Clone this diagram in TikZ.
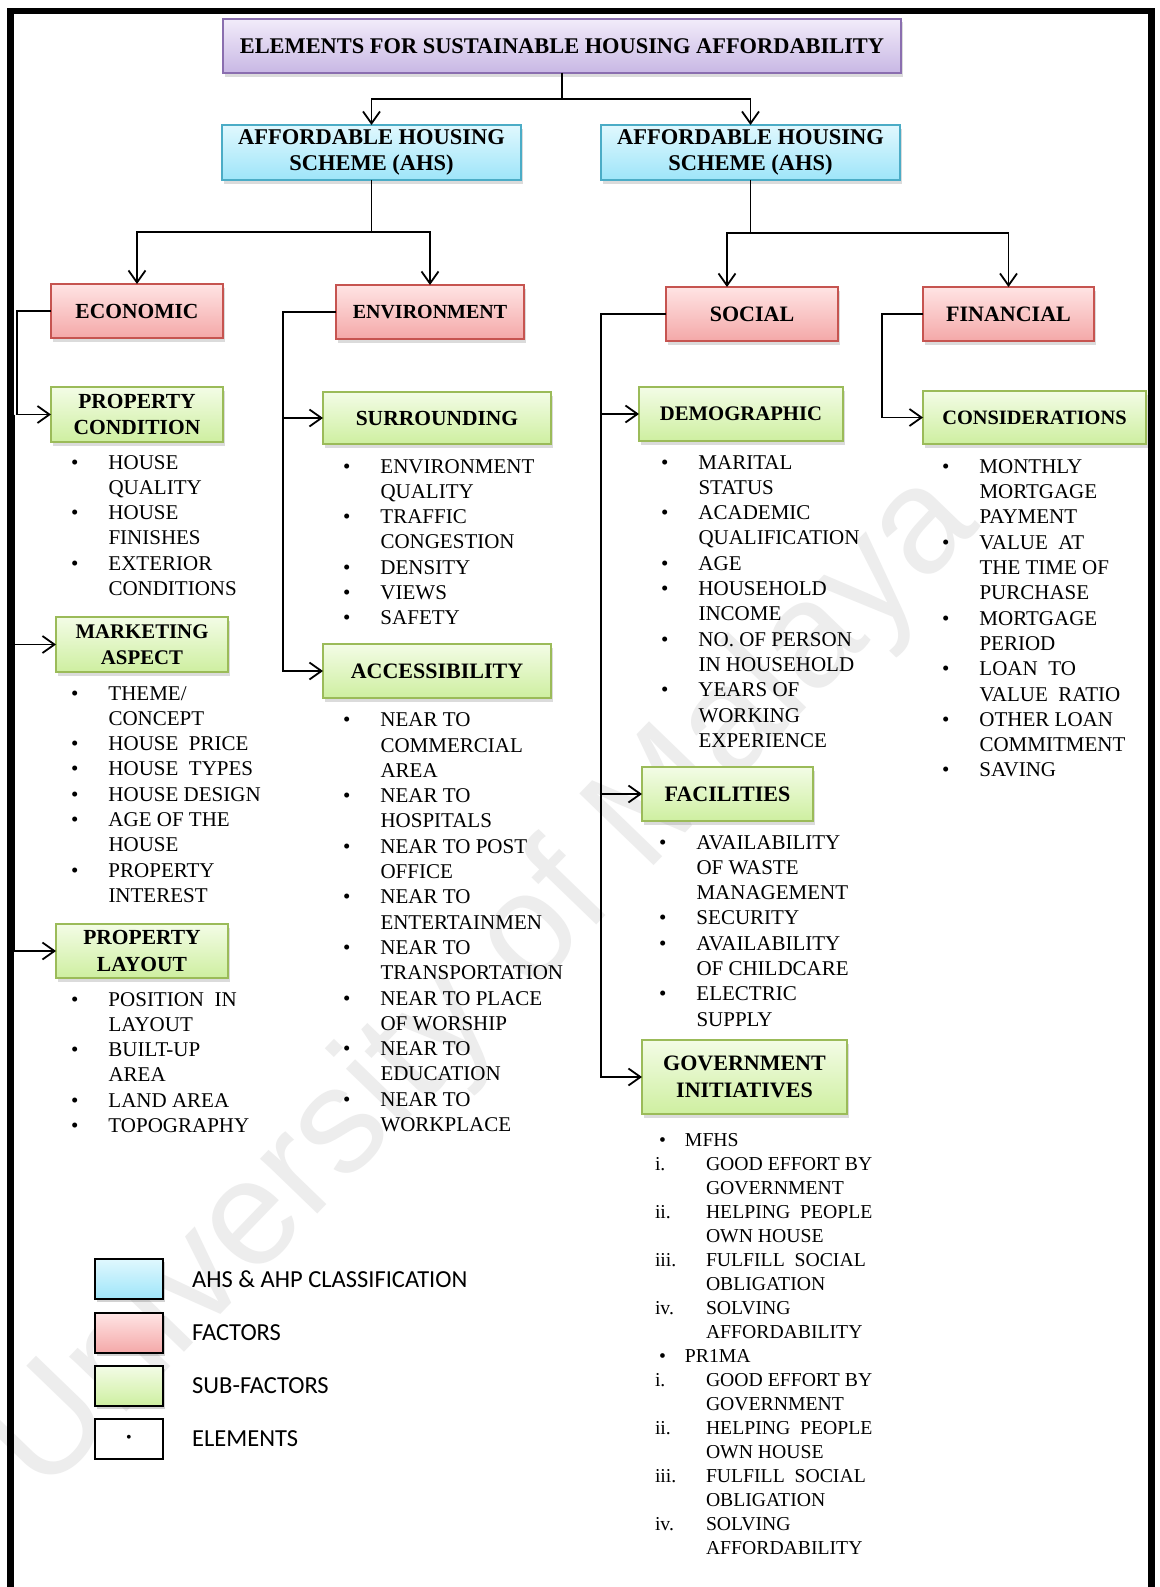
\documentclass[tikz,border=0pt]{standalone}
\usepackage{fontspec}
\setmainfont{Liberation Serif}
\newfontfamily\legendfont{Carlito}
\newfontfamily\markfont{Liberation Sans}
\usetikzlibrary{arrows.meta,shadows,calc}

% box colours
\definecolor{purTop}{RGB}{242,236,250}
\definecolor{purBot}{RGB}{200,183,228}
\definecolor{purLine}{RGB}{138,110,175}
\definecolor{bluTop}{RGB}{224,248,254}
\definecolor{bluBot}{RGB}{158,229,249}
\definecolor{bluLine}{RGB}{75,172,198}
\definecolor{redTop}{RGB}{255,228,228}
\definecolor{redBot}{RGB}{244,168,168}
\definecolor{redLine}{RGB}{198,84,80}
\definecolor{grnTop}{RGB}{243,252,230}
\definecolor{grnBot}{RGB}{206,239,160}
\definecolor{grnLine}{RGB}{155,187,89}

% list helpers
\newcommand\bl{\makebox[37.5pt][l]{\textbullet}}
\newcommand\ct{\hspace*{37.5pt}}
\newcommand\gb{\hspace*{4pt}\makebox[26pt][l]{\textbullet}}
\newcommand\rn[1]{\makebox[51pt][l]{#1}}
\newcommand\gc{\hspace*{51pt}}

\tikzset{
  x=1pt, y=-1pt,
  box/.style={draw, line width=2pt, inner sep=0pt, outer sep=0pt,
    anchor=north west, align=center,
    font=\fontsize{21.5}{26.5}\selectfont\bfseries,
    drop shadow={shadow xshift=1.5pt, shadow yshift=-3.5pt, opacity=.28}},
  topbox/.style={box, draw=purLine, top color=purTop, bottom color=purBot},
  schemebox/.style={box, draw=bluLine, top color=bluTop, bottom color=bluBot},
  factorbox/.style={box, draw=redLine, top color=redTop, bottom color=redBot},
  subbox/.style={box, draw=grnLine, top color=grnTop, bottom color=grnBot},
  itemlist/.style={anchor=base west, inner sep=0pt, outer sep=0pt,
    font=\fontsize{21}{25.3}\selectfont},
  govlist/.style={anchor=base west, inner sep=0pt, outer sep=0pt,
    font=\fontsize{19.7}{24}\selectfont},
  conn/.style={line width=1.8pt},
  arr/.style={conn, -{Straight Barb[length=12pt,width=17pt]}},
  legbox/.style={draw=black, line width=2pt, inner sep=0pt, outer sep=0pt,
    anchor=north west, minimum width=68pt, minimum height=40pt},
  legshadow/.style={drop shadow={shadow xshift=1.5pt, shadow yshift=-3pt, opacity=.35}},
  legtext/.style={anchor=west, inner sep=0pt,
    font=\legendfont\fontsize{24.5}{28}\selectfont},
}

\begin{document}
\begin{tikzpicture}
\useasboundingbox (0,0) rectangle (1159,1587);
\fill[white] (0,0) rectangle (1159,1587);

% faint watermark behind everything
\node[rotate=46, text=black!7, inner sep=0pt,
  font=\markfont\fontsize{150}{150}\selectfont] (mark) at (485,985) {University of Malaya};

% page frame, open at the bottom
\draw[line width=6.5pt] (10.5,1587) -- (10.5,11) -- (1151.5,11) -- (1151.5,1587);

% ---- top levels
\node[topbox, minimum width=678pt, minimum height=54pt, font=\fontsize{22.4}{26}\selectfont\bfseries]
  (title) at (223,19) {ELEMENTS FOR SUSTAINABLE HOUSING AFFORDABILITY};
\node[schemebox, minimum width=299pt, minimum height=55pt, font=\fontsize{22.5}{26.7}\selectfont\bfseries]
  (ahsL) at (222,125) {AFFORDABLE HOUSING\\SCHEME (AHS)};
\node[schemebox, minimum width=299pt, minimum height=55pt, font=\fontsize{22.5}{26.7}\selectfont\bfseries]
  (ahsR) at (601,125) {AFFORDABLE HOUSING\\SCHEME (AHS)};

% ---- factors
\node[factorbox, minimum width=172pt, minimum height=54pt] (econ) at (51,284) {ECONOMIC};
\node[factorbox, minimum width=188pt, minimum height=54pt, font=\fontsize{20}{24}\selectfont\bfseries]
  (env) at (336,285) {ENVIRONMENT};
\node[factorbox, minimum width=172pt, minimum height=54pt, font=\fontsize{22}{26}\selectfont\bfseries]
  (soc) at (666,287) {SOCIAL};
\node[factorbox, minimum width=171pt, minimum height=54pt, font=\fontsize{22}{26}\selectfont\bfseries]
  (fin) at (923,287) {FINANCIAL};

% ---- sub-factors
\node[subbox, minimum width=172pt, minimum height=55pt] (pc) at (51,387) {PROPERTY\\CONDITION};
\node[subbox, minimum width=172pt, minimum height=55pt, font=\fontsize{20.8}{26}\selectfont\bfseries]
  (ma) at (56,617) {MARKETING\\ASPECT};
\node[subbox, minimum width=172pt, minimum height=54pt] (pl) at (56,924) {PROPERTY\\LAYOUT};
\node[subbox, minimum width=228pt, minimum height=52pt] (su) at (323,392) {SURROUNDING};
\node[subbox, minimum width=228pt, minimum height=54pt, font=\fontsize{22}{26}\selectfont\bfseries]
  (ac) at (323,644) {ACCESSIBILITY};
\node[subbox, minimum width=204pt, minimum height=54pt, font=\fontsize{20.7}{26}\selectfont\bfseries]
  (demo) at (639,387) {DEMOGRAPHIC};
\node[subbox, minimum width=223pt, minimum height=53pt, font=\fontsize{20.4}{26}\selectfont\bfseries]
  (cons) at (923,391) {CONSIDERATIONS};
\node[subbox, minimum width=171pt, minimum height=54pt, font=\fontsize{22}{26}\selectfont\bfseries]
  (fac) at (642,767) {FACILITIES};
\node[subbox, minimum width=205pt, minimum height=74pt, font=\fontsize{22}{27}\selectfont\bfseries]
  (gov) at (642,1040) {GOVERNMENT\\INITIATIVES};

% ---- connectors
\draw[arr] (title.south) -- ++(0,26) -| (ahsL.north);
\draw[arr] (title.south) -- ++(0,26) -| (ahsR.north);
\draw[arr] (ahsL.south) -- ++(0,52) -| (econ.north);
\draw[arr] (ahsL.south) -- ++(0,52) -| (env.north);
\draw[arr] (ahsR.south) -- ++(0,53) -| ([xshift=-25pt]soc.north);
\draw[arr] (ahsR.south) -- ++(0,53) -| (fin.north);

\draw[arr] (econ.west) -- ++(-34,0) |- (pc.west);
\coordinate (erail) at (14,414.5);
\draw[arr] (erail) |- (ma.west);
\draw[arr] (erail) |- (pl.west);

\draw[arr] (env.west) -- ++(-53,0) coordinate (envk) |- (su.west);
\draw[arr] (envk) |- (ac.west);

\draw[arr] (soc.west) -- ++(-65,0) coordinate (sock) |- (demo.west);
\draw[arr] (sock) |- (fac.west);
\draw[arr] (sock) |- (gov.west);

\draw[arr] (fin.west) -- ++(-41,0) |- (cons.west);

% ---- elements
\node[itemlist] (pcl) at (71,469) {\begin{tabular}[t]{@{}l@{}}
\bl HOUSE\\ \ct QUALITY\\ \bl HOUSE\\ \ct FINISHES\\ \bl EXTERIOR\\ \ct CONDITIONS
\end{tabular}};

\node[itemlist] (mal) at (71,700) {\begin{tabular}[t]{@{}l@{}}
\bl THEME/\\ \ct CONCEPT\\ \bl HOUSE\ \ PRICE\\ \bl HOUSE\ \ TYPES\\ \bl HOUSE DESIGN\\
\bl AGE OF THE\\ \ct HOUSE\\ \bl PROPERTY\\ \ct INTEREST
\end{tabular}};

\node[itemlist] (pll) at (71,1006) {\begin{tabular}[t]{@{}l@{}}
\bl POSITION\ \ IN\\ \ct LAYOUT\\ \bl BUILT-UP\\ \ct AREA\\ \bl LAND AREA\\ \bl TOPOGRAPHY
\end{tabular}};

\node[itemlist] (sul) at (343,473) {\begin{tabular}[t]{@{}l@{}}
\bl ENVIRONMENT\\ \ct QUALITY\\ \bl TRAFFIC\\ \ct CONGESTION\\ \bl DENSITY\\ \bl VIEWS\\ \bl SAFETY
\end{tabular}};

\node[itemlist] (acl) at (343,726.7) {\begin{tabular}[t]{@{}l@{}}
\bl NEAR TO\\ \ct COMMERCIAL\\ \ct AREA\\ \bl NEAR TO\\ \ct HOSPITALS\\
\bl NEAR TO POST\\ \ct OFFICE\\ \bl NEAR TO\\ \ct ENTERTAINMEN\\
\bl NEAR TO\\ \ct TRANSPORTATION\\ \bl NEAR TO PLACE\\ \ct OF WORSHIP\\
\bl NEAR TO\\ \ct EDUCATION\\ \bl NEAR TO\\ \ct WORKPLACE
\end{tabular}};

\node[itemlist] (del) at (661,469) {\begin{tabular}[t]{@{}l@{}}
\bl MARITAL\\ \ct STATUS\\ \bl ACADEMIC\\ \ct QUALIFICATION\\ \bl AGE\\
\bl HOUSEHOLD\\ \ct INCOME\\ \bl NO. OF PERSON\\ \ct IN HOUSEHOLD\\
\bl YEARS OF\\ \ct WORKING\\ \ct EXPERIENCE
\end{tabular}};

\node[itemlist] (col) at (942,473.3) {\begin{tabular}[t]{@{}l@{}}
\bl MONTHLY\\ \ct MORTGAGE\\ \ct PAYMENT\\ \bl VALUE\ \ AT\\ \ct THE TIME OF\\ \ct PURCHASE\\
\bl MORTGAGE\\ \ct PERIOD\\ \bl LOAN\ \ TO\\ \ct VALUE\ \ RATIO\\
\bl OTHER LOAN\\ \ct COMMITMENT\\ \bl SAVING
\end{tabular}};

\node[itemlist] (fal) at (659,849) {\begin{tabular}[t]{@{}l@{}}
\bl AVAILABILITY\\ \ct OF WASTE\\ \ct MANAGEMENT\\ \bl SECURITY\\
\bl AVAILABILITY\\ \ct OF CHILDCARE\\ \bl ELECTRIC\\ \ct SUPPLY
\end{tabular}};

\node[govlist] (gol) at (655,1146) {\begin{tabular}[t]{@{}l@{}}
\gb MFHS\\
\rn{i.}GOOD EFFORT BY\\ \gc GOVERNMENT\\
\rn{ii.}HELPING\ \ PEOPLE\\ \gc OWN HOUSE\\
\rn{iii.}FULFILL\ \ SOCIAL\\ \gc OBLIGATION\\
\rn{iv.}SOLVING\\ \gc AFFORDABILITY\\
\gb PR1MA\\
\rn{i.}GOOD EFFORT BY\\ \gc GOVERNMENT\\
\rn{ii.}HELPING\ \ PEOPLE\\ \gc OWN HOUSE\\
\rn{iii.}FULFILL\ \ SOCIAL\\ \gc OBLIGATION\\
\rn{iv.}SOLVING\\ \gc AFFORDABILITY
\end{tabular}};

% ---- legend
\node[legbox, legshadow, top color=bluTop, bottom color=bluBot] (lgA) at (95,1259) {};
\node[legbox, legshadow, top color=redTop, bottom color=redBot] (lgB) at (95,1313) {};
\node[legbox, legshadow, top color=grnTop, bottom color=grnBot] (lgC) at (95,1366) {};
\node[legbox, fill=white] (lgD) at (95,1419) {\fontsize{16}{16}\selectfont\textbullet};
\node[legtext] (ltA) at ([xshift=29pt]lgA.east) {AHS \& AHP CLASSIFICATION};
\node[legtext] (ltB) at ([xshift=29pt]lgB.east) {FACTORS};
\node[legtext] (ltC) at ([xshift=29pt]lgC.east) {SUB-FACTORS};
\node[legtext] (ltD) at ([xshift=29pt]lgD.east) {ELEMENTS};
\end{tikzpicture}
\end{document}
